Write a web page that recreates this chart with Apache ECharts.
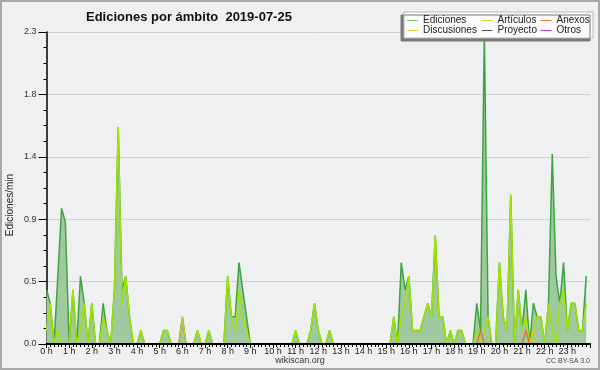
<!DOCTYPE html>
<html><head><meta charset="utf-8">
<script src="https://cdn.jsdelivr.net/npm/echarts@6/dist/echarts.min.js"></script>
<style>html,body{margin:0;padding:0;background:#f0f0f0}#c{width:600px;height:370px}</style>
</head><body><div id="c"></div>
<script>
// 10-minute slots, 6 per hour
const xTickLabels = ['0 h','1 h','2 h','3 h','4 h','5 h','6 h','7 h','8 h','9 h','10 h','11 h','12 h','13 h','14 h','15 h','16 h','17 h','18 h','19 h','20 h','21 h','22 h','23 h'];
const yTickValues = [0, 0.46, 0.92, 1.38, 1.84, 2.3];

const ediciones = [
 0.4,0.3,0,0.5,1.0,0.9,
 0,0.4,0,0.5,0.3,0,
 0.3,0,0,0.3,0.1,0,
 0.4,1.6,0.4,0.5,0.2,0,
 0,0.1,0,0,0,0,
 0,0.1,0.1,0,0,0,
 0.2,0,0,0,0.1,0,
 0,0.1,0,0,0,0,
 0.5,0.2,0.2,0.6,0.4,0.2,
 0,0,0,0,0,0,
 0,0,0,0,0,0,
 0.1,0,0,0,0.1,0.3,
 0.1,0,0,0.1,0,0,
 0,0,0,0,0,0,
 0,0,0,0,0,0,
 0,0,0.2,0,0.6,0.4,
 0.5,0.1,0.1,0.1,0.2,0.3,
 0.2,0.8,0.2,0.2,0,0.1,
 0,0.1,0.1,0,0,0,
 0.3,0.1,2.3,0.2,0,0,
 0.6,0.2,0.1,1.1,0,0.4,
 0.1,0.4,0,0.3,0.2,0.2,
 0,0.3,1.4,0.5,0.3,0.6,
 0.1,0.3,0.3,0.1,0.1,0.5
];
const articulos = [
 0.1,0.3,0,0.1,0,0,
 0,0.4,0,0.1,0.3,0,
 0.3,0,0,0.2,0.1,0,
 0.4,1.6,0.3,0.5,0.2,0,
 0,0.1,0,0,0,0,
 0,0.1,0.1,0,0,0,
 0,0,0,0,0.1,0,
 0,0.1,0,0,0,0,
 0.5,0.2,0.1,0.4,0.2,0.1,
 0,0,0,0,0,0,
 0,0,0,0,0,0,
 0.1,0,0,0,0.1,0.3,
 0.1,0,0,0.1,0,0,
 0,0,0,0,0,0,
 0,0,0,0,0,0,
 0,0,0.2,0,0.2,0.3,
 0.5,0.1,0.1,0.1,0.2,0.3,
 0.2,0.8,0.2,0.2,0,0.1,
 0,0.1,0.1,0,0,0,
 0.1,0,0.1,0.2,0,0,
 0.6,0.2,0.1,1.1,0,0.4,
 0.1,0.2,0,0.1,0.2,0.2,
 0,0.3,0.1,0,0.3,0.4,
 0.1,0.3,0.3,0.1,0.1,0.3
];
const anexos = [
 0,0,0,0,0,0, 0,0,0,0,0,0, 0,0,0,0,0,0, 0,0,0,0,0,0,
 0,0,0,0,0,0, 0,0,0,0,0,0, 0,0,0,0,0,0, 0,0,0,0,0,0,
 0,0,0,0,0,0, 0,0,0,0,0,0, 0,0,0,0,0,0, 0,0,0,0,0,0,
 0,0,0,0,0,0, 0,0,0,0,0,0, 0,0,0,0,0,0, 0,0,0,0,0,0,
 0,0,0,0,0,0, 0,0,0,0,0,0, 0,0,0,0,0,0, 0,0.1,0,0,0,0,
 0,0,0,0,0,0, 0,0.1,0,0,0,0, 0,0,0,0,0,0, 0,0,0,0,0,0
];
const discusiones = [
 0,0,0,0,0,0, 0,0,0,0,0,0, 0,0,0,0,0,0, 0,0,0,0,0,0,
 0,0,0,0,0,0, 0,0,0,0,0,0, 0.2,0,0,0,0,0, 0,0,0,0,0,0,
 0,0,0,0,0,0, 0,0,0,0,0,0, 0,0,0,0,0,0, 0,0,0,0,0,0,
 0,0,0,0,0,0, 0,0,0,0,0,0, 0,0,0,0,0,0, 0,0,0,0,0,0,
 0,0,0,0,0,0, 0,0,0,0,0,0, 0,0,0,0,0,0, 0,0,0,0,0,0,
 0,0,0,0,0,0, 0,0,0,0.1,0,0, 0,0,0,0,0,0, 0,0,0,0,0,0
];
const proyecto = [
 0,0,0,0,0,0, 0,0,0,0,0,0, 0,0,0,0,0,0, 0,0,0,0,0,0,
 0,0,0,0,0,0, 0,0,0,0,0,0, 0,0,0,0,0,0, 0,0,0,0,0,0,
 0,0,0,0,0,0, 0,0,0,0,0,0, 0,0,0,0,0,0, 0,0,0,0,0,0,
 0,0,0,0,0,0, 0,0,0,0,0,0, 0,0,0,0,0,0, 0,0,0,0,0,0,
 0,0,0,0,0,0, 0,0,0,0,0,0, 0,0,0,0,0,0, 0,0,0,0,0,0,
 0,0,0,0,0,0, 0,0,0,0,0,0, 0,0,0,0,0,0, 0,0,0,0,0,0
];
const otros = proyecto.slice();

const SLOT = 10; // minutes per data point
const toPairs = arr => arr.map((v, i) => [i * SLOT, v]);
const FONT = 'Liberation Sans';

const chart = echarts.init(document.getElementById('c'), null, {renderer: 'canvas'});

function legendItem(name, color, left, top) {
  return {
    left: left, top: top, orient: 'horizontal', padding: 0, z: 20,
    icon: 'rect', itemWidth: 11, itemHeight: 1, itemGap: 0,
    selectedMode: false,
    data: [{name: name, itemStyle: {color: color}}],
    textStyle: {fontSize: 10, color: '#222', fontFamily: FONT, padding: [0,0,0,0]}
  };
}

const option = {
  backgroundColor: '#f0f0f0',
  animation: false,
  title: {
    text: 'Ediciones por ámbito  2019-07-25',
    left: 81, top: 6,
    textStyle: {fontSize: 13, fontWeight: 'bold', color: '#111', fontFamily: FONT}
  },
  legend: [
    legendItem('Ediciones', '#6cc86c', 407, 15.5),
    legendItem('Artículos', '#b8ee30', 481.5, 15.5),
    legendItem('Anexos', '#ee7744', 540.5, 15.5),
    legendItem('Discusiones', '#eecc33', 407, 25.5),
    legendItem('Proyecto', '#555555', 481.5, 25.5),
    legendItem('Otros', '#9944ee', 540.5, 25.5)
  ],
  graphic: [
    {type: 'rect', z: 15, shape: {x: 404, y: 12, width: 189, height: 26},
     style: {fill: '#fbfbfb', stroke: '#b8b8b8', lineWidth: 1,
             shadowColor: '#7a7a7a', shadowBlur: 0, shadowOffsetX: -3, shadowOffsetY: 3}},
    {type: 'text', z: 15, left: 'center', top: 356,
     style: {text: 'wikiscan.org', fill: '#333', font: '9px "Liberation Sans"'}},
    {type: 'text', z: 15, right: 10, top: 358,
     style: {text: 'CC BY-SA 3.0', fill: '#444', font: '7px "Liberation Sans"'}},
    {type: 'rect', z: 30, silent: true, shape: {x: 1, y: 1, width: 598, height: 368},
     style: {fill: null, stroke: '#a8a8a8', lineWidth: 2}}
  ],
  grid: {left: 46.5, right: 10, top: 32, bottom: 26, show: true, containLabel: false,
         outerBoundsMode: 'none',
         backgroundColor: '#eef0f2', borderWidth: 0},
  xAxis: {
    type: 'value', min: 0, max: 1440, interval: 60, z: 5,
    axisLine: {show: true, onZero: false, lineStyle: {color: '#000', width: 2}},
    axisTick: {show: true, length: 4, lineStyle: {color: '#000', width: 1}},
    minorTick: {show: true, splitNumber: 6, length: 3, lineStyle: {color: '#000', width: 1}},
    splitLine: {show: false},
    axisLabel: {fontSize: 9, color: '#222', fontFamily: FONT, margin: 3,
      formatter: v => (v >= 1440 ? '' : xTickLabels[Math.round(v / 60)])}
  },
  yAxis: {
    type: 'value', min: yTickValues[0], max: yTickValues[yTickValues.length - 1], interval: 0.46,
    name: 'Ediciones/min', nameLocation: 'middle', nameGap: 31, nameMoveOverlap: false,
    nameTextStyle: {fontSize: 10, color: '#222', fontFamily: FONT, padding: [0, 34, 0, 0]},
    axisLine: {show: true, lineStyle: {color: '#000', width: 1.5}},
    axisTick: {show: true, length: 8, lineStyle: {color: '#000'}},
    minorTick: {show: true, splitNumber: 4, length: 3, lineStyle: {color: '#000'}},
    splitLine: {show: true, lineStyle: {color: '#cfd0d2', width: 1}},
    axisLabel: {fontSize: 9, color: '#333', fontFamily: FONT, margin: 10,
      formatter: v => v.toFixed(1)}
  },
  series: [
    {name: 'Ediciones', type: 'line', data: toPairs(ediciones), showSymbol: false, z: 2,
     lineStyle: {color: '#3fa43f', width: 1.5}, itemStyle: {color: '#6cc86c'},
     areaStyle: {color: '#a0c9a0', opacity: 1}},
    {name: 'Artículos', type: 'line', data: toPairs(articulos), showSymbol: false, z: 3,
     lineStyle: {color: '#a2e400', width: 1.5}, itemStyle: {color: '#b8ee30'}},
    {name: 'Discusiones', type: 'line', data: toPairs(discusiones), showSymbol: false, z: 3,
     lineStyle: {color: '#e8c020', width: 1.2}, itemStyle: {color: '#eecc33'}},
    {name: 'Anexos', type: 'line', data: toPairs(anexos), showSymbol: false, z: 3,
     lineStyle: {color: '#ee6622', width: 1.2}, itemStyle: {color: '#ee7744'}},
    {name: 'Proyecto', type: 'line', data: toPairs(proyecto), showSymbol: false, z: 1,
     lineStyle: {color: '#555555', width: 1}, itemStyle: {color: '#555555'}},
    {name: 'Otros', type: 'line', data: toPairs(otros), showSymbol: false, z: 1,
     lineStyle: {color: '#9944ee', width: 1}, itemStyle: {color: '#9944ee'}}
  ]
};
chart.setOption(option);
</script></body></html>
